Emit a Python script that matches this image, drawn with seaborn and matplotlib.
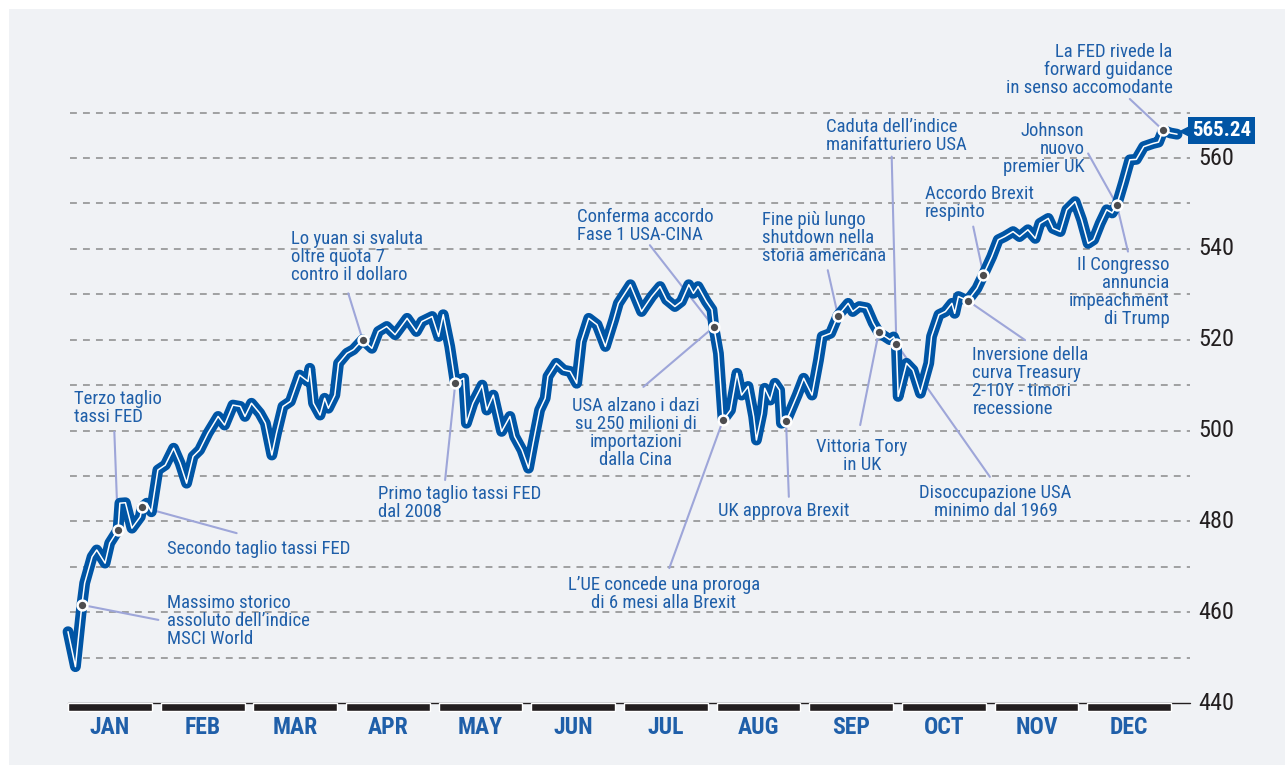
import matplotlib
matplotlib.use("Agg")
import matplotlib.pyplot as plt
import seaborn as sns
import pandas as pd
from matplotlib import font_manager
from matplotlib.patches import Rectangle

sns.set_theme(style="white")

# look for a condensed face, the original uses a narrow grotesque
fonts = font_manager.fontManager.ttflist
condensed = [f for f in fonts
             if ("Narrow" in f.name or "Condensed" in f.name
                 or f.stretch in ("condensed", "semi-condensed"))
             and f.style == "normal"]
if condensed:
    pick = sorted(condensed, key=lambda f: ("Roboto" not in f.name, "Liberation" not in f.name, f.name))[0]
    plt.rcParams["font.family"] = [pick.name, "Liberation Sans", "DejaVu Sans"]
    plt.rcParams["font.stretch"] = pick.stretch
else:
    plt.rcParams["font.family"] = ["Liberation Sans", "DejaVu Sans"]

# MSCI World index 2019 (x = months since 1 Jan)
month_pos = [0.00, 0.08, 0.15, 0.18, 0.26, 0.31, 0.40, 0.45, 0.54, 0.56,
             0.62, 0.69, 0.78, 0.80, 0.85, 0.90, 0.97, 1.05, 1.14, 1.21,
             1.28, 1.35, 1.42, 1.51, 1.62, 1.69, 1.78, 1.86, 1.91, 1.98,
             2.07, 2.13, 2.20, 2.25, 2.32, 2.40, 2.50, 2.59, 2.61, 2.65,
             2.72, 2.77, 2.81, 2.88, 2.92, 3.01, 3.08, 3.18, 3.28, 3.35,
             3.44, 3.53, 3.66, 3.76, 3.82, 3.93, 4.00, 4.05, 4.12, 4.18,
             4.27, 4.30, 4.37, 4.47, 4.52, 4.59, 4.68, 4.77, 4.82, 4.90,
             4.97, 5.02, 5.09, 5.15, 5.18, 5.27, 5.35, 5.42, 5.49, 5.54,
             5.62, 5.71, 5.80, 5.89, 5.94, 6.07, 6.19, 6.30, 6.39, 6.46,
             6.55, 6.62, 6.70, 6.75, 6.80, 6.89, 6.95, 6.97, 7.02, 7.07,
             7.15, 7.22, 7.27, 7.34, 7.40, 7.43, 7.49, 7.52, 7.58, 7.63,
             7.68, 7.70, 7.75, 7.87, 7.94, 8.03, 8.10, 8.14, 8.23, 8.31,
             8.42, 8.47, 8.54, 8.62, 8.69, 8.75, 8.87, 8.91, 8.94, 8.96,
             9.05, 9.12, 9.20, 9.29, 9.32, 9.40, 9.47, 9.54, 9.57, 9.61,
             9.71, 9.81, 9.88, 9.97, 10.04, 10.11, 10.20, 10.27, 10.36, 10.44,
             10.49, 10.58, 10.63, 10.71, 10.78, 10.87, 10.94, 11.01, 11.07, 11.14,
             11.21, 11.27, 11.32, 11.39, 11.46, 11.53, 11.61, 11.71, 11.77, 11.82,
             11.90, 11.97]
index_val = [455.7, 448.0, 461.6, 466.4, 472.2, 473.7, 470.8, 475.2, 478.1, 484.0,
             484.1, 478.5, 481.0, 483.1, 484.0, 482.1, 491.3, 492.4, 496.1, 492.8,
             488.4, 494.3, 495.7, 499.4, 503.1, 501.2, 505.6, 505.3, 503.1, 506.0,
             503.8, 501.6, 494.6, 499.4, 505.3, 506.4, 512.2, 510.8, 513.7, 506.0,
             503.4, 507.1, 504.9, 507.8, 514.8, 517.0, 517.8, 520.0, 518.1, 521.8,
             522.9, 521.1, 524.7, 521.8, 524.0, 525.1, 520.7, 525.5, 518.5, 510.4,
             511.5, 501.6, 506.0, 510.0, 504.5, 507.8, 499.8, 503.1, 498.7, 495.7,
             491.7, 497.2, 504.5, 507.1, 511.9, 514.8, 513.3, 513.0, 510.4, 519.6,
             524.7, 523.3, 518.5, 524.4, 528.0, 532.1, 526.2, 529.5, 531.7, 528.8,
             527.3, 528.4, 532.1, 530.2, 531.7, 528.4, 526.6, 522.8, 517.0, 502.3,
             504.5, 512.6, 507.8, 509.7, 503.1, 497.9, 503.8, 509.3, 506.7, 510.4,
             508.9, 501.6, 502.0, 507.8, 511.5, 507.8, 515.5, 520.7, 521.4, 525.3,
             528.0, 526.2, 527.3, 527.0, 523.7, 521.6, 520.0, 520.6, 519.1, 507.5,
             514.8, 513.3, 508.2, 514.8, 520.7, 525.5, 526.2, 528.0, 525.8, 529.5,
             528.6, 531.3, 534.3, 538.3, 542.0, 542.7, 543.8, 542.7, 544.2, 542.3,
             545.6, 546.7, 544.5, 543.8, 548.6, 550.4, 546.4, 541.2, 542.0, 545.6,
             548.6, 547.9, 549.7, 554.5, 559.6, 559.7, 562.5, 563.2, 563.5, 566.1,
             565.5, 565.24]

months = ["JAN", "FEB", "MAR", "APR", "MAY", "JUN",
          "JUL", "AUG", "SEP", "OCT", "NOV", "DEC"]
y_labels = [440, 460, 480, 500, 520, 540, 560]
grid_levels = [450, 460, 470, 480, 490, 500, 510, 520, 530, 540, 550, 560, 570]
last_value = "565.24"

# event markers (month position on the line)
event_months = [0.15, 0.54, 0.80, 3.18, 4.18, 6.97, 7.07, 7.75,
                8.31, 8.75, 8.94, 9.71, 9.88, 11.32, 11.82]

# text, event month, text x, text y (top), alignment, leader start x, y
notes = [
    ("Terzo taglio\ntassi FED", 0.54, 0.065, 508.9, "left", 0.50, 499.7),
    ("Secondo taglio tassi FED", 0.80, 1.07, 475.9, "left", 1.82, 477.4),
    ("Massimo storico\nassoluto dell’indice\nMSCI World", 0.15, 1.07, 464.0, "left", 0.975, 458.3),
    ("Lo yuan si svaluta\noltre quota 7\ncontro il dollaro", 3.18, 2.41, 544.2, "left", 3.025, 530.2),
    ("Primo taglio tassi FED\ndal 2008", 4.18, 3.35, 488.0, "left", 4.07, 489.1),
    ("Conferma accordo\nFase 1 USA-CINA", 6.97, 5.49, 549.0, "left", 6.28, 540.8),
    ("USA alzano i dazi\nsu 250 milioni di\nimportazioni\ndalla Cina", 6.97, 6.13, 507.4, "center", 6.21, 509.6),
    ("L’UE concede una proroga\ndi 6 mesi alla Brexit", 7.07, 6.43, 468.0, "center", 6.49, 469.7),
    ("UK approva Brexit", 7.75, 7.73, 484.3, "center", 7.78, 485.4),
    ("Fine più lungo\nshutdown nella\nstoria americana", 8.31, 7.49, 548.3, "left", 8.20, 535.3),
    ("Vittoria Tory\nin UK", 8.75, 8.57, 498.4, "center", 8.55, 501.2),
    ("Caduta dell’indice\nmanifatturiero USA", 8.94, 8.18, 568.8, "left", 8.89, 560.3),
    ("Disoccupazione USA\nminimo dal 1969", 8.94, 10.01, 488.2, "center", 9.95, 489.8),
    ("Inversione della\ncurva Treasury\n2-10Y - timori\nrecessione", 9.71, 9.76, 518.6, "left", 10.33, 519.9),
    ("Accordo Brexit\nrespinto", 9.88, 9.25, 554.1, "left", 9.77, 544.9),
    ("Johnson\nnuovo\npremier UK", 11.32, 10.97, 567.9, "right", 11.01, 561.0),
    ("Il Congresso\nannuncia\nimpeachment\ndi Trump", 11.32, 11.89, 538.4, "right", 11.44, 539.4),
    ("La FED rivede la\nforward guidance\nin senso accomodante", 11.82, 11.92, 585.3, "right", 11.46, 573.0),
]

blue = "#0055a5"
text_blue = "#1f5fa9"
leader = "#9ea6d9"
dark = "#231f20"

df = pd.DataFrame({"month": month_pos, "value": index_val})
lookup = dict(zip(month_pos, index_val))
ev = pd.DataFrame({"month": event_months, "value": [lookup[m] for m in event_months]})

fig = plt.figure(figsize=(12.85, 7.65), dpi=100)
fig.patch.set_facecolor("white")
fig.patches.append(Rectangle((9 / 1285, 0), 1, 1 - 9 / 765, transform=fig.transFigure,
                             facecolor="#f0f2f5", edgecolor="none", zorder=-5))
ax = fig.add_axes([0, 0, 1, 1])
ax.set_facecolor("none")
ax.patch.set_alpha(0)

# dashed grid
for g in grid_levels:
    ax.plot([0.02, 12.11], [g, g], color="#8a8a8a", lw=1.1, dashes=(4.5, 4), zorder=1)
ax.plot([0, 12.11], [440, 440], color=dark, lw=1, zorder=1)

# month bars and labels
ax.bar(range(12), 1.8, bottom=438.2, width=0.905, align="edge", color=dark, zorder=2)
for i, m in enumerate(months):
    ax.text(i + 0.453, 434.6, m, ha="center", va="center", fontsize=17,
            fontweight="bold", color=text_blue)

for v in y_labels:
    ax.text(12.2, v, str(v), ha="left", va="center", fontsize=17.5, color=dark)

# leader lines and notes
for text, em, tx, ty, ha, lx, ly in notes:
    ax.plot([lx, em], [ly, lookup[em]], color=leader, lw=1.5, zorder=3)
    ax.text(tx, ty, text, ha=ha, va="top", fontsize=13.5, color=text_blue,
            linespacing=1.0, multialignment=ha, zorder=6)

sns.lineplot(data=df, x="month", y="value", sort=False, color=blue, lw=7.8,
             solid_joinstyle="round", solid_capstyle="round", ax=ax, zorder=4)
sns.lineplot(data=df, x="month", y="value", sort=False, color="white", lw=1.1,
             solid_joinstyle="round", ax=ax, zorder=4)
sns.scatterplot(data=ev, x="month", y="value", s=50, color="#4d4d4f",
                edgecolor="white", linewidth=1.8, ax=ax, zorder=5)

# last value tag
ax.plot([12.08], [566.0], marker="<", ms=13, color=blue, mec="none", zorder=6)
ax.text(12.45, 566.0, last_value, ha="center", va="center", fontsize=15,
        fontweight="bold", color="white", zorder=7,
        bbox=dict(boxstyle="square,pad=0.2", fc=blue, ec="none"))

ax.set_xlim(-0.734, 13.135)
ax.set_ylim(426.35, 594.79)
ax.axis("off")

fig.savefig("out.png", dpi=100, facecolor="white")
